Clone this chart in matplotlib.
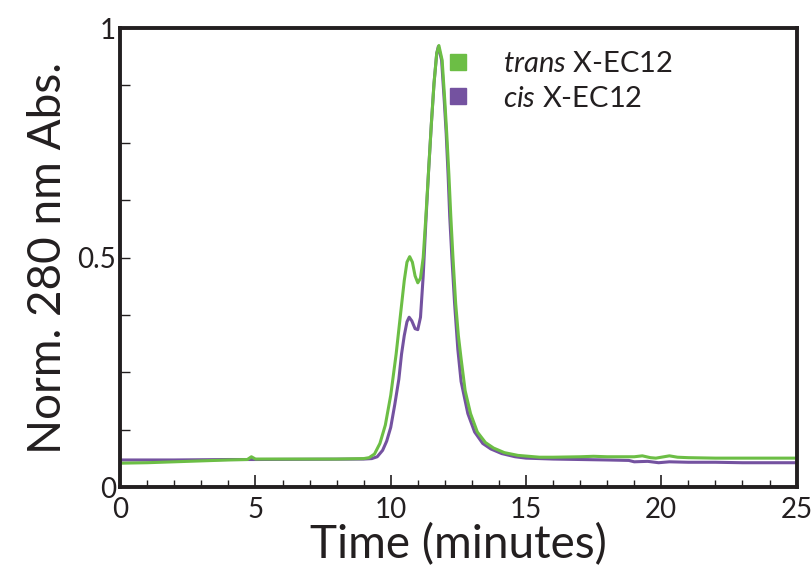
import matplotlib
matplotlib.use("Agg")
import matplotlib.pyplot as plt
from matplotlib.lines import Line2D
from matplotlib.ticker import MultipleLocator, FuncFormatter

plt.rcParams['font.family'] = ['Lato', 'DejaVu Sans']
plt.rcParams['mathtext.fontset'] = 'custom'
plt.rcParams['mathtext.it'] = 'Lato:italic'
plt.rcParams['mathtext.rm'] = 'Lato'

series_names = ["trans X-EC12", "cis X-EC12"]

trans_time = [0.0, 1.0, 2.0, 3.0, 4.0, 4.7, 4.85, 5.0, 6.0, 7.0, 8.0, 9.0, 9.2, 9.4, 9.6, 9.8,
              10.0, 10.2, 10.35, 10.5, 10.6, 10.7, 10.8, 10.9, 11.0, 11.1, 11.2, 11.3, 11.4,
              11.5, 11.6, 11.7, 11.78, 11.9, 12.0, 12.07, 12.15, 12.22, 12.3, 12.4, 12.5,
              12.6, 12.75, 12.95, 13.2, 13.5, 13.8, 14.2, 14.7, 15.5, 16.0, 17.0, 17.5, 18.0,
              19.0, 19.3, 19.6, 19.8, 20.1, 20.3, 20.6, 21.0, 22.0, 23.0, 24.0, 25.0]
trans_abs = [0.052, 0.053, 0.055, 0.057, 0.059, 0.060, 0.066, 0.061, 0.061, 0.061, 0.061, 0.062,
             0.064, 0.072, 0.095, 0.135, 0.20, 0.29, 0.37, 0.45, 0.49, 0.502, 0.49, 0.46, 0.445,
             0.455, 0.50, 0.59, 0.69, 0.79, 0.88, 0.945, 0.962, 0.93, 0.84, 0.77, 0.68, 0.59,
             0.50, 0.40, 0.33, 0.28, 0.21, 0.16, 0.12, 0.097, 0.085, 0.075, 0.069, 0.065, 0.065,
             0.066, 0.067, 0.066, 0.066, 0.068, 0.064, 0.063, 0.066, 0.068, 0.065, 0.064, 0.063,
             0.063, 0.063, 0.063]

cis_time = [0.0, 2.0, 4.0, 5.0, 9.0, 9.3, 9.5, 9.7, 9.85, 10.0, 10.15, 10.3, 10.4, 10.5, 10.6,
            10.68, 10.78, 10.9, 11.0, 11.1, 11.2, 11.3, 11.4, 11.5, 11.6, 11.7, 11.76, 11.88,
            11.98, 12.05, 12.12, 12.18, 12.26, 12.36, 12.48, 12.6, 12.85, 13.1, 13.4, 13.7,
            14.1, 14.6, 15.0, 16.0, 17.0, 18.0, 18.8, 19.0, 19.5, 19.9, 20.3, 21.0, 22.0, 23.0,
            24.0, 25.0]
cis_abs = [0.059, 0.059, 0.060, 0.060, 0.061, 0.062, 0.066, 0.08, 0.10, 0.13, 0.18, 0.235, 0.29,
           0.33, 0.36, 0.37, 0.362, 0.345, 0.343, 0.37, 0.46, 0.58, 0.69, 0.79, 0.88, 0.945,
           0.960, 0.93, 0.84, 0.77, 0.68, 0.59, 0.50, 0.40, 0.30, 0.23, 0.16, 0.12, 0.095,
           0.083, 0.073, 0.066, 0.063, 0.061, 0.060, 0.059, 0.058, 0.055, 0.056, 0.053, 0.055,
           0.054, 0.054, 0.053, 0.053, 0.053]

green = "#6cbe45"
purple = "#7452a0"
ink = "#231f20"

fig = plt.figure(figsize=(8.12, 5.73), dpi=100)
ax = fig.add_axes([0.148, 0.150, 0.833, 0.801])

ax.plot(cis_time, cis_abs, color=purple, lw=2.2, solid_joinstyle='round')
ax.plot(trans_time, trans_abs, color=green, lw=2.2, solid_joinstyle='round')

ax.set_xlim(0, 25)
ax.set_ylim(0, 1)
ax.xaxis.set_major_locator(MultipleLocator(5))
ax.xaxis.set_minor_locator(MultipleLocator(1))
ax.yaxis.set_major_locator(MultipleLocator(0.5))
ax.yaxis.set_minor_locator(MultipleLocator(0.125))
ax.xaxis.set_major_formatter(FuncFormatter(lambda v, p: f"{v:g}"))
ax.yaxis.set_major_formatter(FuncFormatter(lambda v, p: f"{v:g}"))

for s in ax.spines.values():
    s.set_linewidth(2.8)
    s.set_color(ink)

ax.tick_params(axis='both', which='both', direction='in', color=ink,
               labelsize=20, labelcolor=ink)
ax.tick_params(axis='x', which='major', length=9, width=1.2, pad=7)
ax.tick_params(axis='x', which='minor', length=5, width=1.0)
ax.tick_params(axis='y', which='major', length=7, width=1.0, pad=3)
ax.tick_params(axis='y', which='minor', length=7, width=1.0)

ax.set_xlabel("Time (minutes)", fontsize=33, color=ink, labelpad=0)
ax.set_ylabel("Norm. 280 nm Abs.", fontsize=33, color=ink, labelpad=6)

handles = [Line2D([], [], marker='s', linestyle='none', markersize=12, color=green),
           Line2D([], [], marker='s', linestyle='none', markersize=12, color=purple)]
labels = [r"$\it{trans}$ X-EC12", r"$\it{cis}$ X-EC12"]
ax.legend(handles, labels, loc='upper left', bbox_to_anchor=(0.426, 0.995), frameon=False,
          fontsize=21, handletextpad=0.55, labelspacing=0.3, borderpad=0.2,
          labelcolor=ink)

fig.savefig("out.png", dpi=100)
